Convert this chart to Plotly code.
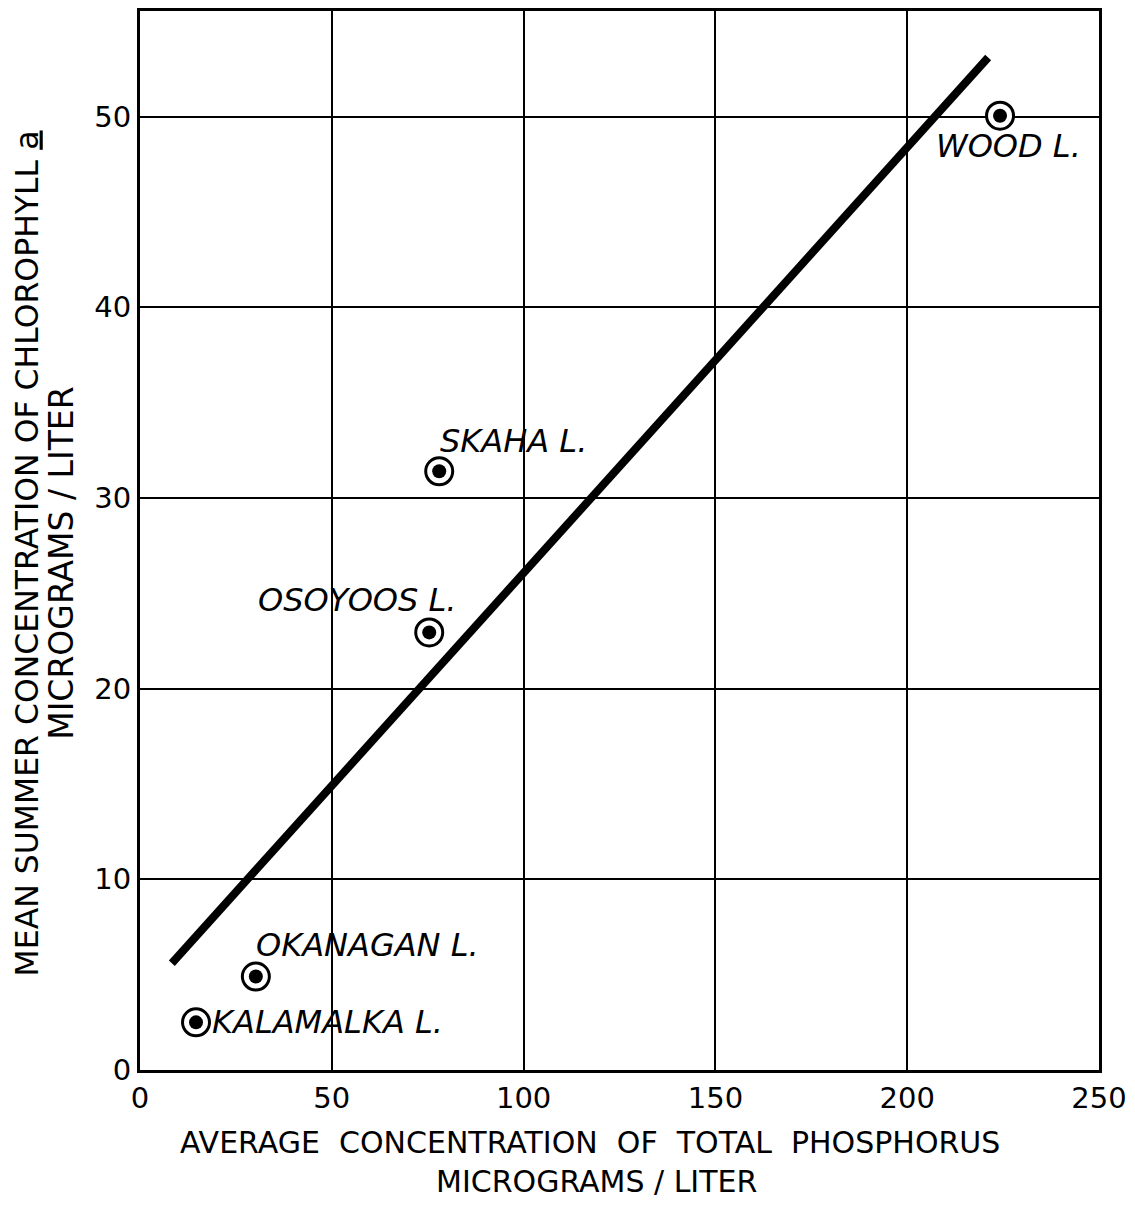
import plotly.graph_objects as go

# Data
lakes = ["WOOD L.", "SKAHA L.", "OSOYOOS L.", "OKANAGAN L.", "KALAMALKA L."]
phosphorus = [224.2, 78.0, 75.4, 30.2, 14.6]
chlorophyll = [50.05, 31.4, 22.95, 4.9, 2.5]

fit_x = [8.3, 221.1]
fit_y = [5.6, 53.1]

x_ticks = [0, 50, 100, 150, 200, 250]
y_ticks = [0, 10, 20, 30, 40, 50]

x_title = ["AVERAGE  CONCENTRATION  OF  TOTAL  PHOSPHORUS", "MICROGRAMS / LITER"]
y_title = ["MEAN SUMMER CONCENTRATION OF CHLOROPHYLL <u>a</u>", "MICROGRAMS / LITER"]

# label offsets in pixels (xshift, yshift, xanchor)
label_offsets = {
    "WOOD L.": (8, -30, "center"),
    "SKAHA L.": (74, 30, "center"),
    "OSOYOOS L.": (-72, 32, "center"),
    "OKANAGAN L.": (112, 32, "center"),
    "KALAMALKA L.": (14, 0, "left"),
}

FONT = "DejaVu Sans"

fig = go.Figure()

fig.add_trace(go.Scatter(
    x=fit_x, y=fit_y, mode="lines",
    line=dict(color="black", width=8),
    hoverinfo="skip", showlegend=False,
))

fig.add_trace(go.Scatter(
    x=phosphorus, y=chlorophyll, mode="markers",
    marker=dict(symbol="circle", size=27, color="white",
                line=dict(color="black", width=3)),
    hoverinfo="skip", showlegend=False,
))
fig.add_trace(go.Scatter(
    x=phosphorus, y=chlorophyll, mode="markers",
    marker=dict(symbol="circle", size=14, color="black"),
    text=lakes, showlegend=False,
))

for name, xv, yv in zip(lakes, phosphorus, chlorophyll):
    dx, dy, anc = label_offsets[name]
    fig.add_annotation(
        x=xv, y=yv, text="<i>" + name + "</i>", showarrow=False,
        xshift=dx, yshift=dy, xanchor=anc, yanchor="middle",
        font=dict(family=FONT, size=32, color="black"),
    )

# axis titles (one annotation per line)
fig.add_annotation(
    xref="paper", yref="paper", x=0.4692, y=-0.0687, xanchor="center", yanchor="middle",
    text=x_title[0], showarrow=False, font=dict(family=FONT, size=30, color="black"),
)
fig.add_annotation(
    xref="paper", yref="paper", x=0.4765, y=-0.1055, xanchor="center", yanchor="middle",
    text=x_title[1], showarrow=False, font=dict(family=FONT, size=30, color="black"),
)
fig.add_annotation(
    xref="paper", yref="paper", x=-0.1178, y=0.4878, xanchor="center", yanchor="middle",
    textangle=-90, text=y_title[0], showarrow=False,
    font=dict(family=FONT, size=31.5, color="black"),
)
fig.add_annotation(
    xref="paper", yref="paper", x=-0.0813, y=0.478, xanchor="center", yanchor="middle",
    textangle=-90, text=y_title[1], showarrow=False,
    font=dict(family=FONT, size=33, color="black"),
)

fig.update_xaxes(
    range=[0, 250], tickvals=x_ticks, ticktext=[str(t) for t in x_ticks],
    showgrid=True, gridcolor="black", gridwidth=1.5,
    showline=True, linecolor="black", linewidth=3, mirror=True,
    zeroline=False, ticks="", ticklen=0,
    tickfont=dict(family=FONT, size=29, color="black"),
)
fig.update_yaxes(
    range=[0, 55.54], tickvals=y_ticks, ticktext=[str(t) for t in y_ticks],
    showgrid=True, gridcolor="black", gridwidth=1.5,
    showline=True, linecolor="black", linewidth=3, mirror=True,
    zeroline=False, ticks="", ticklen=0,
    tickfont=dict(family=FONT, size=29, color="black"),
)

fig.update_layout(
    width=1119, height=1194,
    margin=dict(l=132, r=28, t=0, b=132),
    plot_bgcolor="white", paper_bgcolor="white",
    showlegend=False,
)

fig.write_html("out.html")
